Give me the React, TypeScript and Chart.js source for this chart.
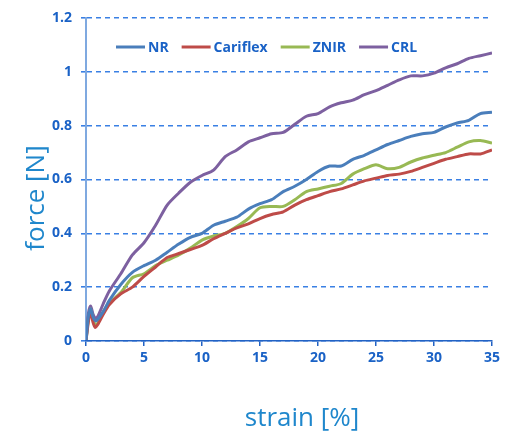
import React, { useEffect, useRef } from "react";
import { Chart, registerables } from "chart.js";

Chart.register(...registerables);

const strain = [0, 0.2, 0.4, 0.6, 0.8, 1, 1.5, 2, 3, 4, 5, 6, 7, 8, 9, 10, 11, 12, 13, 14, 15, 16, 17, 18, 19, 20, 21, 22, 23, 24, 25, 26, 27, 28, 29, 30, 31, 32, 33, 34, 35];

const nrForce = [0, 0.09, 0.12, 0.09, 0.075, 0.08, 0.11, 0.15, 0.21, 0.255, 0.28, 0.3, 0.33, 0.36, 0.385, 0.4, 0.43, 0.445, 0.46, 0.49, 0.51, 0.525, 0.555, 0.575, 0.6, 0.63, 0.65, 0.65, 0.675, 0.69, 0.71, 0.73, 0.745, 0.76, 0.77, 0.775, 0.795, 0.81, 0.82, 0.845, 0.85];

const cariflexForce = [0, 0.07, 0.11, 0.07, 0.05, 0.06, 0.1, 0.135, 0.175, 0.2, 0.24, 0.275, 0.31, 0.325, 0.34, 0.355, 0.38, 0.4, 0.42, 0.435, 0.455, 0.47, 0.48, 0.505, 0.525, 0.54, 0.555, 0.565, 0.58, 0.595, 0.605, 0.615, 0.62, 0.63, 0.645, 0.66, 0.675, 0.685, 0.695, 0.695, 0.71];

const znirForce = [0, 0.08, 0.12, 0.08, 0.06, 0.065, 0.11, 0.14, 0.18, 0.235, 0.25, 0.28, 0.3, 0.32, 0.345, 0.375, 0.39, 0.4, 0.425, 0.455, 0.495, 0.5, 0.5, 0.525, 0.555, 0.565, 0.575, 0.585, 0.62, 0.64, 0.655, 0.64, 0.645, 0.665, 0.68, 0.69, 0.7, 0.72, 0.74, 0.745, 0.735];

const crlForce = [0, 0.1, 0.13, 0.1, 0.085, 0.09, 0.14, 0.185, 0.25, 0.32, 0.365, 0.43, 0.505, 0.55, 0.59, 0.615, 0.635, 0.685, 0.71, 0.74, 0.755, 0.77, 0.775, 0.805, 0.835, 0.845, 0.87, 0.885, 0.895, 0.915, 0.93, 0.95, 0.97, 0.985, 0.985, 0.995, 1.015, 1.03, 1.05, 1.06, 1.07];

const seriesNames = ["NR", "Cariflex", "ZNIR", "CRL"];
const seriesValues = [nrForce, cariflexForce, znirForce, crlForce];
const seriesColors = ["#4a7ebb", "#be4b48", "#98b954", "#7d60a0"];

const yTickValues = [0, 0.2, 0.4, 0.6, 0.8, 1, 1.2];
const xTickValues = [0, 5, 10, 15, 20, 25, 30, 35];

const xTitle = "strain [%]";
const yTitle = "force [N]";

const TICK_COLOR = "#1a62c6";
const TITLE_COLOR = "#1f87cc";
const GRID_COLOR = "#3a80e4";
const FONT = '"Open Sans", "DejaVu Sans", sans-serif';

const insideLegend = {
  id: "insideLegend",
  afterDraw(chart: any) {
    const ctx = chart.ctx;
    ctx.save();
    ctx.font = `bold 14px ${FONT}`;
    ctx.textBaseline = "middle";
    ctx.textAlign = "left";
    let x = 116;
    const y = 47;
    chart.data.datasets.forEach((ds: any) => {
      ctx.strokeStyle = ds.borderColor;
      ctx.lineWidth = 3;
      ctx.beginPath();
      ctx.moveTo(x, y);
      ctx.lineTo(x + 29, y);
      ctx.stroke();
      ctx.fillStyle = TICK_COLOR;
      ctx.fillText(ds.label, x + 32, y + 1);
      x += 32 + ctx.measureText(ds.label).width + 13;
    });
    ctx.restore();
  },
};

const axisTitles = {
  id: "axisTitles",
  afterDraw(chart: any) {
    const ctx = chart.ctx;
    ctx.save();
    ctx.font = `26px ${FONT}`;
    ctx.fillStyle = TITLE_COLOR;
    ctx.textAlign = "center";
    ctx.textBaseline = "alphabetic";
    ctx.fillText(xTitle, 302, 426);
    ctx.translate(44, 198);
    ctx.rotate(-Math.PI / 2);
    ctx.fillText(yTitle, 0, 0);
    ctx.restore();
  },
};

export default function App() {
  const canvasRef = useRef<HTMLCanvasElement | null>(null);

  useEffect(() => {
    document.body.style.margin = "0";
    const canvas = canvasRef.current;
    if (!canvas) return;
    const chart = new Chart(canvas, {
      type: "line",
      data: {
        datasets: seriesNames.map((name, i) => ({
          label: name,
          data: strain.map((s, j) => ({ x: s, y: seriesValues[i][j] })),
          borderColor: seriesColors[i],
          backgroundColor: seriesColors[i],
          borderWidth: 3,
          pointRadius: 0,
          tension: 0.25,
          fill: false,
        })),
      },
      options: {
        responsive: false,
        animation: false,
        devicePixelRatio: 1,
        layout: { padding: { left: 0, top: 18, right: 18, bottom: 0 } },
        plugins: {
          legend: { display: false },
          tooltip: { enabled: false },
        },
        scales: {
          x: {
            type: "linear",
            min: 0,
            max: 35,
            afterBuildTicks: (scale: any) => {
              scale.ticks = xTickValues.map((v) => ({ value: v }));
            },
            afterFit: (scale: any) => {
              scale.height = 91;
            },
            ticks: {
              color: TICK_COLOR,
              font: { family: FONT, size: 14, weight: "bold" },
              padding: 4,
              maxRotation: 0,
              callback: (v: any) => String(v),
            },
            grid: {
              drawOnChartArea: false,
              drawTicks: true,
              tickLength: 5,
              color: "#2262c4",
              tickColor: "#2262c4",
              lineWidth: 1.5,
            },
            border: { color: "#2262c4", width: 1.5, z: 1 },
          },
          y: {
            type: "linear",
            min: 0,
            max: 1.2,
            afterBuildTicks: (scale: any) => {
              scale.ticks = yTickValues.map((v) => ({ value: v }));
            },
            afterFit: (scale: any) => {
              scale.width = 86;
            },
            ticks: {
              color: TICK_COLOR,
              font: { family: FONT, size: 14, weight: "bold" },
              padding: 9,
              callback: (v: any) => String(Math.round(v * 10) / 10),
            },
            grid: {
              drawOnChartArea: true,
              drawTicks: true,
              tickLength: 5,
              color: GRID_COLOR,
              tickColor: GRID_COLOR,
              lineWidth: 1.6,
              tickBorderDash: [5, 4],
            },
            border: { color: "#7fa9e0", width: 2, dash: [5, 4] },
          },
        },
      },
      plugins: [insideLegend, axisTitles],
    });
    return () => chart.destroy();
  }, []);

  return (
    <div style={{ width: 510, height: 432 }}>
      <canvas ref={canvasRef} width={510} height={432} style={{ display: "block", width: 510, height: 432 }} />
    </div>
  );
}
